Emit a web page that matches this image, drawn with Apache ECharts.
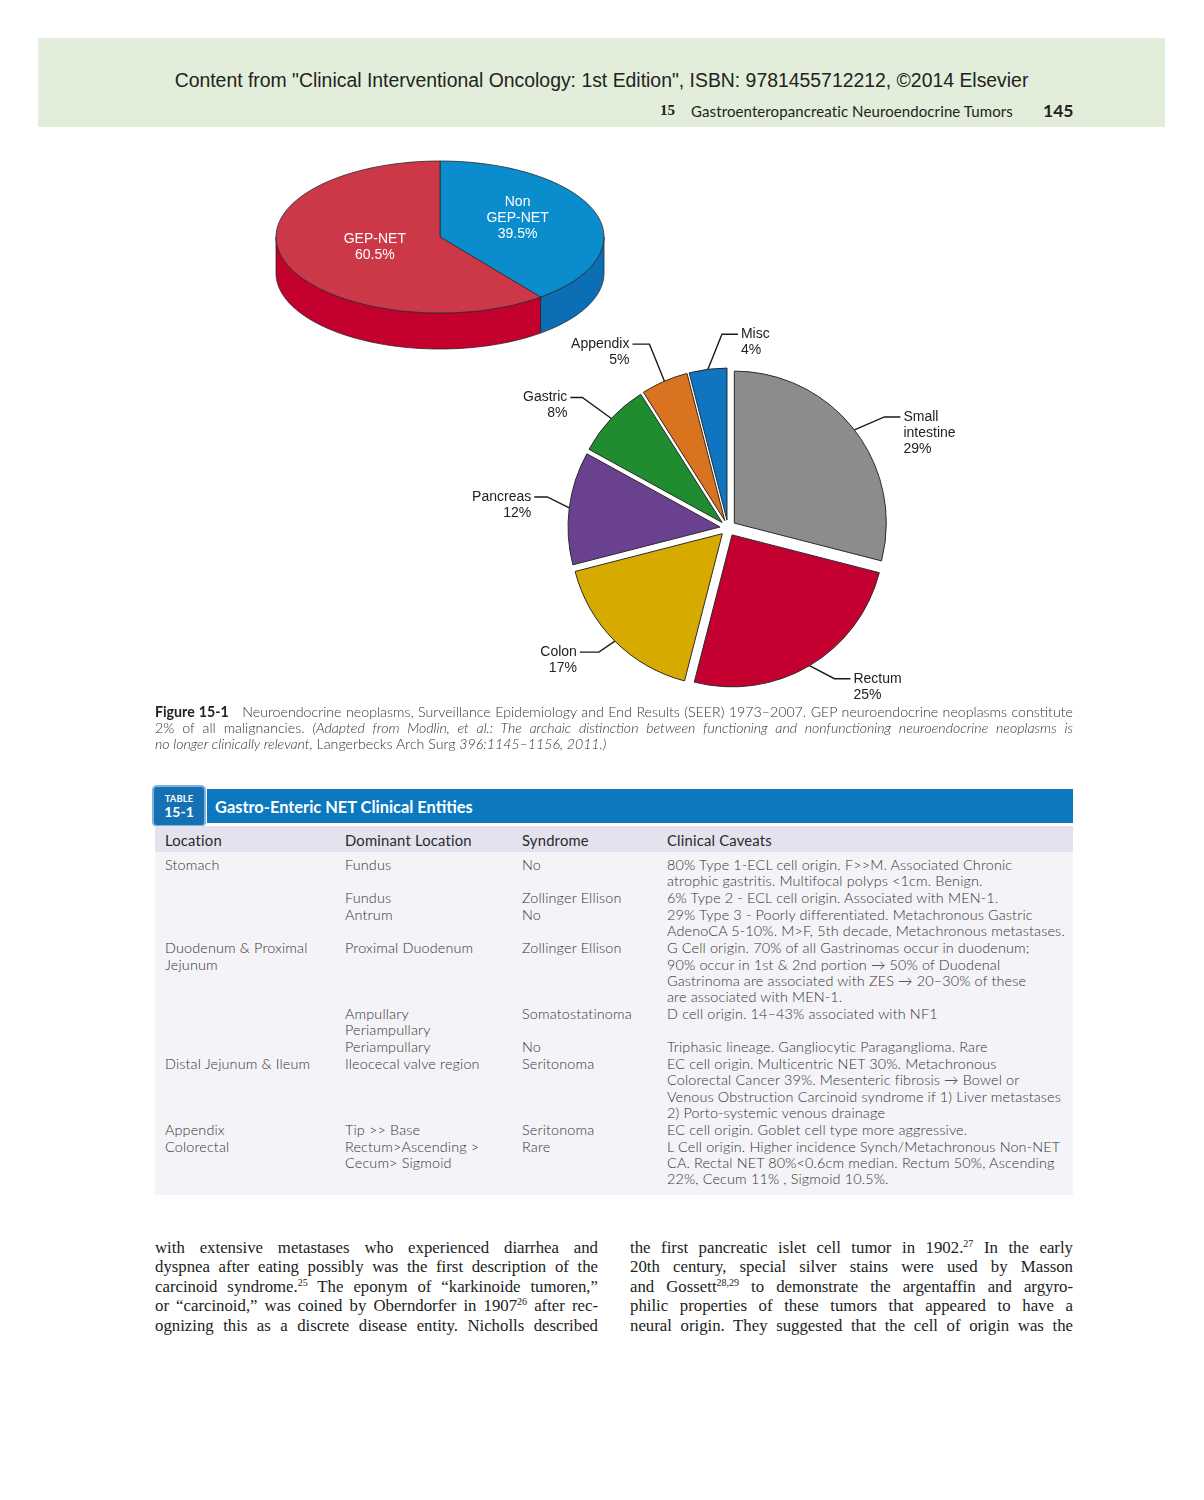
<!DOCTYPE html>
<html>
<head>
<meta charset="utf-8">
<script src="https://cdn.jsdelivr.net/npm/echarts@6/dist/echarts.min.js"></script>
<style>
  html, body { margin:0; padding:0; background:#fff; }
  #page { position:relative; width:1204px; height:1500px; overflow:hidden; background:#fff; }
  .abs { position:absolute; }
  #band { left:38px; top:38px; width:1127px; height:89px; background:#e2eed9; }
  #src { left:38px; width:1127px; top:68px; text-align:center; font:19.4px 'Liberation Sans', Arial, sans-serif; color:#222; line-height:24px; white-space:nowrap; }
  .rh { top:102px; height:20px; line-height:20px; white-space:nowrap; color:#222; }
  #rhnum { left:660px; font:bold 15px 'Liberation Serif', serif; }
  #rhtit { left:691px; font:15px 'Lato', sans-serif; letter-spacing:0.1px; }
  #rhpg { left:1043px; font:bold 17.5px 'Lato', sans-serif; top:100px; }
  #chart { left:0; top:130px; width:1204px; height:580px; }
  #caption { left:155px; top:704px; width:918px; font:300 14.2px 'Lato', sans-serif; color:#333; line-height:16px; }
  .jl { text-align:justify; text-align-last:justify; white-space:nowrap; }
  #caption b { font-weight:700; color:#222; }
  #tbar { left:207px; top:789px; width:866px; height:34px; background:#0b78bf; }
  #ttitle { left:215px; top:796px; font:bold 16.4px 'Lato', sans-serif; color:#fff; line-height:22px; white-space:nowrap; }
  #badge { left:152px; top:785px; width:50px; height:38px; background:#1670b4; border:2px solid #7fb2dd; border-radius:5px; color:#fff; text-align:center; font-family:'Lato', sans-serif; font-weight:bold; }
  #badge .t1 { font-size:9.5px; line-height:11px; margin-top:6px; }
  #badge .t2 { font-size:14px; line-height:16px; }
  #thead { left:155px; top:826px; width:918px; height:26px; background:#e4e2ee; }
  #tbody { left:155px; top:852px; width:918px; height:343px; background:#f4f3f8; }
  table.ent { position:absolute; left:155px; border-collapse:collapse; font:300 14.4px 'Lato', sans-serif; letter-spacing:0.15px; color:#333; }
  table.ent td { padding:0; vertical-align:top; white-space:nowrap; line-height:16.2px; }
  table.ent td.c1 { padding-left:10px; width:180px; }
  table.ent td.c2 { width:177px; }
  table.ent td.c3 { width:145px; }
  table.ent tr td { padding-bottom:0.8px; }
  #hdr { top:832px; }
  #hdr td { font-weight:400; color:#2a2a2a; font-size:14.8px; letter-spacing:0.2px; }
  #rows { top:857px; }
  .body { top:1238px; width:443px; font:16.8px 'Liberation Serif', 'Times New Roman', serif; color:#222; line-height:19.4px; }
  .body sup { font-size:10px; line-height:0; vertical-align:6px; }
</style>
</head>
<body>
<div id="page">
  <div id="band" class="abs"></div>
  <div id="src" class="abs">Content from "Clinical Interventional Oncology: 1st Edition", ISBN: 9781455712212, ©2014 Elsevier</div>
  <div id="rhnum" class="abs rh">15</div>
  <div id="rhtit" class="abs rh">Gastroenteropancreatic Neuroendocrine Tumors</div>
  <div id="rhpg" class="abs rh">145</div>

  <div id="chart" class="abs"></div>

  <div id="caption" class="abs">
    <div class="jl"><b>Figure 15-1</b>&nbsp;&nbsp; Neuroendocrine neoplasms, Surveillance Epidemiology and End Results (SEER) 1973–2007. GEP neuroendocrine neoplasms constitute</div>
    <div class="jl">2% of all malignancies. <i>(Adapted from Modlin, et al.: The archaic distinction between functioning and nonfunctioning neuroendocrine neoplasms is</i></div>
    <div><i>no longer clinically relevant,</i> Langerbecks Arch Surg <i>396:1145–1156, 2011.)</i></div>
  </div>

  <div id="tbar" class="abs"></div>
  <div id="badge" class="abs"><div class="t1">TABLE</div><div class="t2">15-1</div></div>
  <div id="ttitle" class="abs">Gastro-Enteric NET Clinical Entities</div>
  <div id="thead" class="abs"></div>
  <div id="tbody" class="abs"></div>

  <table id="hdr" class="ent">
    <tr><td class="c1">Location</td><td class="c2">Dominant Location</td><td class="c3">Syndrome</td><td>Clinical Caveats</td></tr>
  </table>
  <table id="rows" class="ent">
    <tr><td class="c1">Stomach</td><td class="c2">Fundus</td><td class="c3">No</td><td>80% Type 1-ECL cell origin. F&gt;&gt;M. Associated Chronic<br>atrophic gastritis. Multifocal polyps &lt;1cm. Benign.</td></tr>
    <tr><td class="c1"></td><td class="c2">Fundus</td><td class="c3">Zollinger Ellison</td><td>6% Type 2 - ECL cell origin. Associated with MEN-1.</td></tr>
    <tr><td class="c1"></td><td class="c2">Antrum</td><td class="c3">No</td><td>29% Type 3 - Poorly differentiated. Metachronous Gastric<br>AdenoCA 5-10%. M&gt;F, 5th decade, Metachronous metastases.</td></tr>
    <tr><td class="c1">Duodenum &amp; Proximal<br>Jejunum</td><td class="c2">Proximal Duodenum</td><td class="c3">Zollinger Ellison</td><td>G Cell origin. 70% of all Gastrinomas occur in duodenum;<br>90% occur in 1st &amp; 2nd portion → 50% of Duodenal<br>Gastrinoma are associated with ZES → 20–30% of these<br>are associated with MEN-1.</td></tr>
    <tr><td class="c1"></td><td class="c2">Ampullary<br>Periampullary</td><td class="c3">Somatostatinoma</td><td>D cell origin. 14–43% associated with NF1</td></tr>
    <tr><td class="c1"></td><td class="c2">Periampullary</td><td class="c3">No</td><td>Triphasic lineage. Gangliocytic Paraganglioma. Rare</td></tr>
    <tr><td class="c1">Distal Jejunum &amp; Ileum</td><td class="c2">Ileocecal valve region</td><td class="c3">Seritonoma</td><td>EC cell origin. Multicentric NET 30%. Metachronous<br>Colorectal Cancer 39%. Mesenteric fibrosis → Bowel or<br>Venous Obstruction Carcinoid syndrome if 1) Liver metastases<br>2) Porto-systemic venous drainage</td></tr>
    <tr><td class="c1">Appendix</td><td class="c2">Tip &gt;&gt; Base</td><td class="c3">Seritonoma</td><td>EC cell origin. Goblet cell type more aggressive.</td></tr>
    <tr><td class="c1">Colorectal</td><td class="c2">Rectum&gt;Ascending &gt;<br>Cecum&gt; Sigmoid</td><td class="c3">Rare</td><td>L Cell origin. Higher incidence Synch/Metachronous Non-NET<br>CA. Rectal NET 80%&lt;0.6cm median. Rectum 50%, Ascending<br>22%, Cecum 11% , Sigmoid 10.5%.</td></tr>
  </table>

  <div class="abs body" style="left:155px;">
    <div class="jl">with extensive metastases who experienced diarrhea and</div>
    <div class="jl">dyspnea after eating possibly was the first description of the</div>
    <div class="jl">carcinoid syndrome.<sup>25</sup> The eponym of “karkinoide tumoren,”</div>
    <div class="jl">or “carcinoid,” was coined by Oberndorfer in 1907<sup>26</sup> after rec-</div>
    <div class="jl">ognizing this as a discrete disease entity. Nicholls described</div>
  </div>
  <div class="abs body" style="left:630px;">
    <div class="jl">the first pancreatic islet cell tumor in 1902.<sup>27</sup> In the early</div>
    <div class="jl">20th century, special silver stains were used by Masson</div>
    <div class="jl">and Gossett<sup>28,29</sup> to demonstrate the argentaffin and argyro-</div>
    <div class="jl">philic properties of these tumors that appeared to have a</div>
    <div class="jl">neural origin. They suggested that the cell of origin was the</div>
  </div>
</div>

<script>
// ---- Data: overall NET split (3D pie) ----
const overallNames = ['Non GEP-NET', 'GEP-NET'];
const overallValues = [39.5, 60.5];

// ---- Data: GEP-NET site distribution (exploded pie) ----
const siteNames = ['Small intestine', 'Rectum', 'Colon', 'Pancreas', 'Gastric', 'Appendix', 'Misc'];
const siteValues = [29, 25, 17, 12, 8, 5, 4];

// ---- Styles ----
const overallTopColors = ['#0a8ccd', '#cd3848'];
const overallSideColors = ['#0c6eb4', '#c4002f'];
const overallLabelRadius = [0.5, 0.42];
const overallLabelNudgeY = [-7, 0];
const siteColors = ['#8c8c8c', '#c3002f', '#d7aa00', '#6a418f', '#1f8c2f', '#d9731f', '#0f75c0'];
// leader-line shape per slice: elbow offset (px) from the slice edge, then horizontal run (px)
const siteLeader = [
  { dx: 30, dy: -13, h: 16 },
  { dx: 25, dy: 13, h: 16 },
  { dx: -16, dy: 11, h: -19 },
  { dx: -22, dy: -11, h: -13 },
  { dx: -29, dy: -21, h: -12 },
  { dx: -15, dy: -37, h: -17 },
  { dx: 14, dy: -35, h: 16 }
];
const EXPLODE = 8;      // px offset of each slice
const DEPTH = 0.474;    // 3D pie side thickness, y-axis units
const LABEL_FONT = "'Liberation Sans', Arial, sans-serif";

function cumulative(names, values) {
  let acc = 0;
  return values.map((v, i) => {
    const d = { name: names[i], value: [acc, acc + v, v] };
    acc += v;
    return d;
  });
}
const overallData = cumulative(overallNames, overallValues);
const siteData = cumulative(siteNames, siteValues);

const chart = echarts.init(document.getElementById('chart'), null, { renderer: 'canvas' });

function render3DSlice(params, api) {
  const i = params.dataIndex;
  const t0 = api.value(0) / 100 * Math.PI * 2;
  const t1 = api.value(1) / 100 * Math.PI * 2;
  const pt = (t, r, dz) => api.coord([r * Math.sin(t), r * Math.cos(t) - dz]);
  const steps = 80;
  const children = [];
  const ts = Math.max(t0, Math.PI / 2), te = Math.min(t1, Math.PI * 1.5);
  if (ts < te) {
    const pts = [];
    for (let k = 0; k <= steps; k++) pts.push(pt(ts + (te - ts) * k / steps, 1, 0));
    for (let k = steps; k >= 0; k--) pts.push(pt(ts + (te - ts) * k / steps, 1, DEPTH));
    children.push({ type: 'polygon', shape: { points: pts },
      style: { fill: overallSideColors[i], stroke: '#2a2a2a', lineWidth: 0.8, lineJoin: 'round' } });
  }
  const top = [api.coord([0, 0])];
  for (let k = 0; k <= steps; k++) top.push(pt(t0 + (t1 - t0) * k / steps, 1, 0));
  children.push({ type: 'polygon', shape: { points: top },
    style: { fill: overallTopColors[i], stroke: '#2a2a2a', lineWidth: 0.8, lineJoin: 'round' } });
  const mid = (t0 + t1) / 2;
  const lp = pt(mid, overallLabelRadius[i], 0);
  children.push({ type: 'text', x: lp[0], y: lp[1] + overallLabelNudgeY[i],
    style: { text: overallNames[i].replace(' ', '\n') + '\n' + api.value(2) + '%', fill: '#fff',
      fontSize: 14, fontFamily: LABEL_FONT, lineHeight: 16, align: 'center', verticalAlign: 'middle' } });
  return { type: 'group', children };
}

function renderSiteSlice(params, api) {
  const i = params.dataIndex;
  const t0 = api.value(0) / 100 * Math.PI * 2;
  const t1 = api.value(1) / 100 * Math.PI * 2;
  const tm = (t0 + t1) / 2;
  const c = api.coord([0, 0]);
  const R = api.size([1, 1])[0];
  const dir = [Math.sin(tm), -Math.cos(tm)];
  const cx = c[0] + EXPLODE * dir[0], cy = c[1] + EXPLODE * dir[1];
  const s = siteLeader[i];
  const a = [cx + R * dir[0], cy + R * dir[1]];
  const b = [a[0] + s.dx, a[1] + s.dy];
  const e = [b[0] + s.h, b[1]];
  return {
    type: 'group',
    children: [
      { type: 'sector',
        shape: { cx, cy, r: R, r0: 0, startAngle: t0 - Math.PI / 2, endAngle: t1 - Math.PI / 2, clockwise: true },
        style: { fill: siteColors[i], stroke: '#2a2a2a', lineWidth: 1 } },
      { type: 'polyline', shape: { points: [a, b, e] },
        style: { stroke: '#1a1a1a', lineWidth: 1.4, fill: null } },
      { type: 'text', x: e[0] + (s.h > 0 ? 3 : -3), y: e[1] - 8,
        style: { text: siteNames[i].replace(' ', '\n') + '\n' + api.value(2) + '%', fill: '#222',
          fontSize: 14, fontFamily: LABEL_FONT, lineHeight: 16,
          align: s.h > 0 ? 'left' : 'right', verticalAlign: 'top' } }
    ]
  };
}

chart.setOption({
  animation: false,
  grid: [
    { left: 276, top: 31, width: 328, height: 152 },
    { left: 576, top: 246, width: 304, height: 304 }
  ],
  xAxis: [
    { gridIndex: 0, type: 'value', min: -1, max: 1, show: false },
    { gridIndex: 1, type: 'value', min: -1, max: 1, show: false }
  ],
  yAxis: [
    { gridIndex: 0, type: 'value', min: -1, max: 1, show: false },
    { gridIndex: 1, type: 'value', min: -1, max: 1, show: false }
  ],
  series: [
    { type: 'custom', coordinateSystem: 'cartesian2d', xAxisIndex: 0, yAxisIndex: 0,
      renderItem: render3DSlice, data: overallData, silent: true },
    { type: 'custom', coordinateSystem: 'cartesian2d', xAxisIndex: 1, yAxisIndex: 1,
      renderItem: renderSiteSlice, data: siteData, silent: true }
  ]
});
</script>
</body>
</html>
